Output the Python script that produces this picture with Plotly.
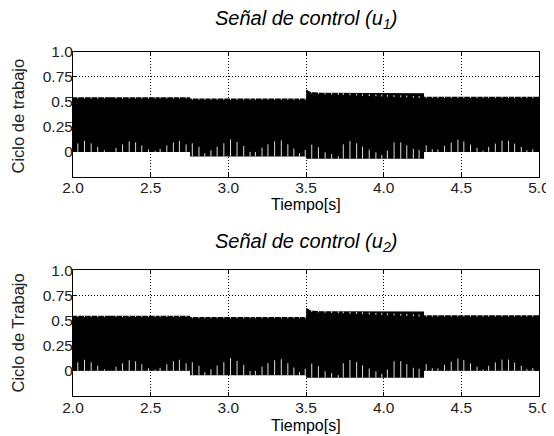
import numpy as np
import plotly.graph_objects as go
from plotly.subplots import make_subplots

# envelope of the dense PWM duty-cycle signal
env_t = [2.0, 2.753, 2.753, 3.501, 3.501, 3.53, 3.6, 4.26, 4.26, 5.0]
env_top = [0.548, 0.548, 0.535, 0.535, 0.625, 0.600, 0.592, 0.588, 0.552, 0.552]
env_bot = [0.0, 0.0, -0.045, -0.045, -0.068, -0.068, -0.068, -0.068, 0.0, 0.0]

# light aliasing spikes rising from the lower edge
spike_t = [2.031, 2.074, 2.117, 2.159, 2.202, 2.277, 2.319, 2.362, 2.403, 2.443,
           2.486, 2.529, 2.561, 2.604, 2.646, 2.685, 2.728,
           2.768, 2.811, 2.849, 2.888, 2.928, 2.971, 3.014, 3.056, 3.099, 3.140,
           3.174, 3.217, 3.255, 3.298, 3.341, 3.383, 3.422, 3.458, 3.495,
           3.537, 3.580, 3.623, 3.665, 3.708, 3.740, 3.783, 3.826, 3.864, 3.907,
           3.950, 3.988, 4.024, 4.067, 4.110, 4.149, 4.191, 4.228,
           4.274, 4.313, 4.349, 4.392, 4.435, 4.478, 4.516, 4.559, 4.601, 4.640,
           4.676, 4.719, 4.762, 4.804, 4.843, 4.886, 4.922, 4.960]
spike_top = [0.085, 0.110, 0.085, 0.050, 0.016, 0.040, 0.075, 0.105, 0.095, 0.065,
             0.025, 0.006, 0.030, 0.065, 0.095, 0.110, 0.075,
             0.086, 0.050, -0.013, 0.016, 0.052, 0.086, 0.125, 0.099, 0.059, 0.000,
             0.000, 0.042, 0.076, 0.105, 0.115, 0.076, 0.033, -0.013, 0.020,
             0.072, 0.046, -0.004, -0.023, -0.043, 0.076, 0.108, 0.086, 0.053, 0.023,
             -0.004, -0.030, 0.013, 0.095, 0.095, 0.066, 0.030, 0.020,
             0.066, 0.026, 0.023, 0.060, 0.092, 0.122, 0.106, 0.073, 0.040, 0.013,
             0.050, 0.083, 0.112, 0.112, 0.083, 0.050, 0.017, 0.027]

# the second control signal looks identical in the picture
u1 = dict(t=env_t, top=env_top, bot=env_bot, st=spike_t, sy=spike_top)
u2 = dict(t=env_t, top=env_top, bot=env_bot, st=spike_t, sy=spike_top)

x_ticks = [2.0, 2.5, 3.0, 3.5, 4.0, 4.5, 5.0]
x_labels = ["2.0", "2.5", "3.0", "3.5", "4.0", "4.5", "5.0"]
y_ticks = [0, 0.25, 0.5, 0.75, 1.0]
y_labels = ["0", "0.25", "0.5", "0.75", "1.0"]

FONT = "Liberation Sans, Arial, sans-serif"

fig = make_subplots(rows=2, cols=1, vertical_spacing=0.27)


def add_signal(sig, row):
    # black band
    px = list(sig["t"]) + list(sig["t"])[::-1]
    py = list(sig["top"]) + list(sig["bot"])[::-1]
    fig.add_trace(go.Scatter(x=px, y=py, mode="lines", fill="toself",
                             fillcolor="black", line=dict(width=0, color="black"),
                             hoverinfo="skip", showlegend=False), row=row, col=1)
    # spikes from the lower edge, notches from the upper edge
    base = []
    for t in sig["st"]:
        i = max(k for k in range(len(sig["t"])) if sig["t"][k] <= t)
        base.append(sig["bot"][i])
    top_at = np.interp(sig["st"], sig["t"][:7] + sig["t"][8:], sig["top"][:7] + sig["top"][8:])
    xs, ys = [], []
    for t, b, y in zip(sig["st"], base, sig["sy"]):
        xs += [t, t, None]
        ys += [b, max(y, b + 0.012), None]
    fig.add_trace(go.Scatter(x=xs, y=ys, mode="lines",
                             line=dict(width=1, color="#dcdcdc"),
                             hoverinfo="skip", showlegend=False), row=row, col=1)
    xs, ys = [], []
    for t, y in zip(sig["st"], top_at):
        xs += [t, t, None]
        ys += [y + 0.005, y - 0.014, None]
    fig.add_trace(go.Scatter(x=xs, y=ys, mode="lines",
                             line=dict(width=1, color="#e6e6e6"),
                             hoverinfo="skip", showlegend=False), row=row, col=1)


add_signal(u1, 1)
add_signal(u2, 2)

axis_common = dict(showline=True, linecolor="black", linewidth=1, mirror="ticks",
                   ticks="inside", ticklen=4, tickcolor="black",
                   showgrid=True, gridcolor="black", gridwidth=1, griddash="1px,2px",
                   zeroline=False, tickfont=dict(family=FONT, size=15.5, color="#222"))

for r in (1, 2):
    fig.update_xaxes(range=[2.0, 5.0], tickvals=x_ticks, ticktext=x_labels,
                     ticklabelstandoff=-3, row=r, col=1, **axis_common)
    fig.update_yaxes(range=[-0.25, 1.0], tickvals=y_ticks, ticktext=y_labels,
                     ticklabelstandoff=-4, row=r, col=1, **axis_common)

# page body adds an 8px offset, compensated in the margins
fig.update_layout(
    width=554, height=436,
    margin=dict(l=65, r=20, t=44, b=48),
    paper_bgcolor="white", plot_bgcolor="white",
    showlegend=False,
    xaxis=dict(domain=[0, 1]), yaxis=dict(domain=[0.637, 1.0]),
    xaxis2=dict(domain=[0, 1]), yaxis2=dict(domain=[0.0, 0.366]),
)

ann = [
    dict(text="<i>Señal de control (u<sub>1</sub>)</i>", x=0.5, y=1.094, size=20),
    dict(text="<i>Señal de control (u<sub>2</sub>)</i>", x=0.5, y=0.445, size=20),
    dict(text="Tiempo[s]", x=0.5, y=0.556, size=16),
    dict(text="Tiempo[s]", x=0.5, y=-0.086, size=16),
]
for a in ann:
    fig.add_annotation(text=a["text"], x=a["x"], y=a["y"], xref="paper", yref="paper",
                       xanchor="center", yanchor="middle", showarrow=False,
                       font=dict(family=FONT, size=a["size"], color="black"))
for txt, y in [("Ciclo de trabajo", 0.814), ("Ciclo de Trabajo", 0.183)]:
    fig.add_annotation(text=txt, x=-0.117, y=y, xref="paper", yref="paper",
                       xanchor="center", yanchor="middle", showarrow=False, textangle=-90,
                       font=dict(family=FONT, size=16.5, color="#222"))

fig.write_html("out.html")
